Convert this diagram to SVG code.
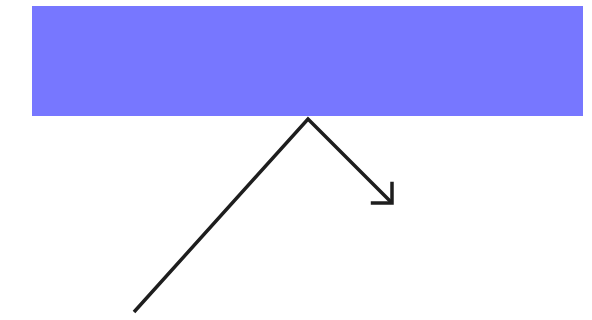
<svg xmlns="http://www.w3.org/2000/svg" width="592" height="320" viewBox="0 0 592 320">
<style>
.conn{fill:none;stroke:#1e1e1e;stroke-width:3.5;stroke-linecap:butt;stroke-linejoin:miter}
</style>
<defs>
<marker id="open" markerWidth="40" markerHeight="40" refX="0" refY="0" orient="auto" markerUnits="userSpaceOnUse" overflow="visible">
<path d="M-15,-15 L0,0 L-15,15" fill="none" stroke="#1e1e1e" stroke-width="3.5"/>
</marker>
</defs>
<rect width="592" height="320" fill="#ffffff"/>
<g id="node-bar">
<rect x="32" y="6" width="551" height="110" fill="#7777ff"/>
</g>
<g id="connectors">
<polyline class="conn" points="134,312 308,119 392,203" marker-end="url(#open)"/>
</g>
</svg>
